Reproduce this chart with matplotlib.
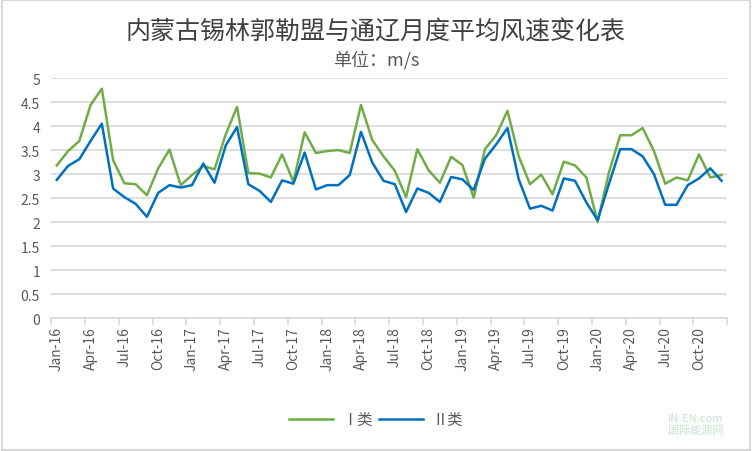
import numpy as np
import matplotlib.pyplot as plt
from matplotlib.patches import Rectangle

plt.rcParams['font.family'] = ['Noto Sans CJK SC', 'DejaVu Sans']

# monthly labels Jan-16 .. Dec-20
months = ['Jan', 'Feb', 'Mar', 'Apr', 'May', 'Jun', 'Jul', 'Aug', 'Sep', 'Oct', 'Nov', 'Dec']
years = ['16', '17', '18', '19', '20']
labels = [m + '-' + y for y in years for m in months]

type1 = [3.18, 3.48, 3.69, 4.44, 4.78, 3.29, 2.81, 2.79, 2.56, 3.12, 3.51, 2.77,
         2.98, 3.17, 3.10, 3.83, 4.40, 3.02, 3.01, 2.93, 3.41, 2.84, 3.87, 3.44,
         3.48, 3.50, 3.44, 4.44, 3.71, 3.37, 3.07, 2.52, 3.52, 3.08, 2.82, 3.36,
         3.19, 2.51, 3.52, 3.81, 4.32, 3.37, 2.79, 2.99, 2.58, 3.26, 3.18, 2.93,
         2.00, 3.03, 3.81, 3.81, 3.96, 3.48, 2.80, 2.93, 2.87, 3.41, 2.93, 2.98]
type2 = [2.88, 3.17, 3.31, 3.69, 4.05, 2.70, 2.52, 2.38, 2.11, 2.61, 2.77, 2.72,
         2.77, 3.22, 2.82, 3.60, 3.98, 2.79, 2.65, 2.42, 2.87, 2.80, 3.45, 2.68,
         2.77, 2.77, 2.98, 3.88, 3.24, 2.86, 2.79, 2.21, 2.70, 2.61, 2.42, 2.94,
         2.89, 2.67, 3.32, 3.62, 3.96, 2.89, 2.28, 2.34, 2.24, 2.91, 2.86, 2.41,
         2.04, 2.79, 3.52, 3.52, 3.37, 3.00, 2.36, 2.36, 2.77, 2.91, 3.12, 2.86]

fig = plt.figure(figsize=(7.52, 4.52), dpi=100)
fig.patches.append(Rectangle((0.002, 0.003), 0.996, 0.994, transform=fig.transFigure,
                             fill=False, edgecolor='#d9d9d9', linewidth=1.5))

ax = fig.add_axes([0.068, 0.294, 0.899, 0.531])
x = np.arange(len(labels))
ax.plot(x, type1, color='#70AD47', linewidth=1.8, label='Ⅰ类')
ax.plot(x, type2, color='#0070C0', linewidth=1.8, label='Ⅱ类')

ax.set_xlim(-0.5, len(labels) - 0.5)
ax.set_ylim(0, 5)
ax.set_yticks(np.arange(0, 5.01, 0.5))
ax.set_yticklabels(['0', '0.5', '1', '1.5', '2', '2.5', '3', '3.5', '4', '4.5', '5'])
ax.grid(axis='y', color='#d9d9d9', linewidth=1.2)
ax.set_axisbelow(True)

ax.set_xticks(x[::3])
ax.set_xticklabels(labels[::3], rotation=90)
ax.set_xticks(np.arange(-0.5, len(labels), 3), minor=True)
ax.tick_params(axis='x', which='major', length=0, pad=6)
ax.tick_params(axis='x', which='minor', length=5, color='#d9d9d9', width=1.2)
ax.tick_params(axis='y', length=0, pad=8)
ax.tick_params(labelsize=10, labelcolor='#595959')

for s in ['top', 'right', 'left']:
    ax.spines[s].set_visible(False)
ax.spines['bottom'].set_color('#d9d9d9')
ax.spines['bottom'].set_linewidth(1.2)

fig.text(0.5, 0.927, '内蒙古锡林郭勒盟与通辽月度平均风速变化表', ha='center', va='center',
         fontsize=18, color='#404040')
fig.text(0.5, 0.867, '单位：m/s', ha='center', va='center', fontsize=13, color='#595959')

fig.legend(loc='center', bbox_to_anchor=(0.5, 0.07), ncol=2, frameon=False,
           fontsize=11, handlelength=2.9, columnspacing=0.4, handletextpad=0.6,
           labelcolor='#595959')

fig.text(0.925, 0.06, 'IN-EN.com\n国际能源网', ha='center', va='center', fontsize=8,
         color='#b8dcc0', alpha=0.8)

fig.savefig('out.png', dpi=100)
